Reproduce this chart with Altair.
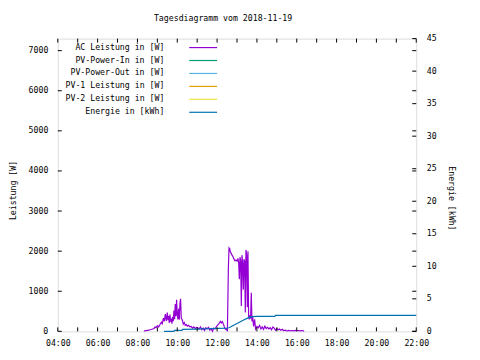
import altair as alt
import pandas as pd

# ---------------- data ----------------
ac_times = ["08:20", "08:22", "08:26", "08:30", "08:34", "08:38", "08:42", "08:46", "08:50", "08:53",
            "08:56", "09:00", "09:04", "09:08", "09:12", "09:15", "09:18", "09:21", "09:24", "09:27",
            "09:30", "09:32", "09:34", "09:36", "09:38", "09:40", "09:42", "09:44", "09:46", "09:48",
            "09:50", "09:52", "09:54", "09:56", "09:58", "10:00", "10:02", "10:04", "10:06", "10:08",
            "10:10", "10:12", "10:14", "10:16", "10:18", "10:21", "10:24", "10:27", "10:30", "10:34",
            "10:38", "10:42", "10:46", "10:50", "10:54", "10:58", "11:02", "11:06", "11:10", "11:14",
            "11:18", "11:22", "11:26", "11:30", "11:34", "11:38", "11:42", "11:46", "11:50", "11:54",
            "11:58", "12:02", "12:06", "12:10", "12:13", "12:16", "12:19", "12:22", "12:25", "12:28",
            "12:31", "12:34", "12:36", "12:38", "12:40", "12:42", "12:45", "12:48", "12:51", "12:54",
            "12:57", "13:00", "13:03", "13:05", "13:07", "13:09", "13:11", "13:13", "13:15", "13:17",
            "13:19", "13:21", "13:23", "13:25", "13:27", "13:29", "13:31", "13:33", "13:35", "13:37",
            "13:39", "13:41", "13:43", "13:45", "13:47", "13:50", "13:53", "13:56", "14:00", "14:04",
            "14:08", "14:12", "14:16", "14:20", "14:24", "14:28", "14:32", "14:36", "14:40", "14:44",
            "14:48", "14:52", "14:56", "15:00", "15:04", "15:08", "15:12", "15:16", "15:20", "15:25",
            "15:30", "15:35", "15:40", "15:45", "15:50", "15:55", "16:00", "16:05", "16:10", "16:15",
            "16:20", "16:22"]
ac_watts = [0, 15, 20, 25, 30, 40, 45, 60, 70, 110,
            90, 140, 110, 170, 230, 190, 330, 250, 430, 260,
            470, 280, 380, 210, 420, 240, 320, 190, 360, 250,
            520, 300, 680, 380, 790, 420, 300, 560, 290, 690,
            810, 330, 300, 260, 180, 220, 150, 170, 130, 150,
            110, 120, 80, 110, 70, 100, 90, 60, 110, 40,
            80, 20, 90, 60, 100, 30, 70, 0, 80, 60,
            120, 160, 200, 250, 210, 240, 180, 110, 50, 60,
            0, 1600, 2080, 2060, 1980, 1950, 1900, 1860, 1800, 1760,
            1780, 1750, 1820, 1700, 1300, 1850, 1750, 630, 1900, 1700,
            1040, 1800, 1750, 470, 2030, 1900, 600, 2000, 380, 300,
            400, 320, 960, 250, 370, 120, 300, 60, 120, 90,
            150, 60, 110, 50, 130, 70, 100, 60, 90, 40,
            110, 80, 30, 70, 40, 60, 30, 50, 20, 30,
            10, 25, 15, 20, 10, 25, 15, 20, 10, 20,
            15, 0]

energy_times = ["09:20", "09:50", "09:52", "10:14", "10:16", "11:00", "11:30", "12:00", "12:30", "12:36",
                "13:00", "13:20", "13:35", "13:45", "14:00", "14:54", "14:56", "22:00"]
energy_kwh = [0.0, 0.0, 0.15, 0.15, 0.3, 0.35, 0.4, 0.45, 0.5, 0.55,
              1.2, 1.75, 2.1, 2.25, 2.3, 2.3, 2.45, 2.45]

legend_labels = ["AC Leistung in [W]", "PV-Power-In in [W]", "PV-Power-Out in [W]",
                 "PV-1 Leistung in [W]", "PV-2 Leistung in [W]", "Energie in [kWh]"]
legend_colors = ["#9400d3", "#009e73", "#56b4e9", "#e69f00", "#f0e442", "#0072b2"]

hour_ticks = list(range(4, 23))
hour_labels = list(range(4, 23, 2))
watt_ticks = [0, 1000, 2000, 3000, 4000, 5000, 6000, 7000]
kwh_ticks = [0, 5, 10, 15, 20, 25, 30, 35, 40, 45]

title_text = ["Tagesdiagramm vom 2018-11-19"]

# ---------------- build ----------------
def to_hours(t):
    h, m = t.split(":")
    return int(h) + int(m) / 60.0

ac_df = pd.DataFrame({"t": [to_hours(t) for t in ac_times], "v": ac_watts})
en_df = pd.DataFrame({"t": [to_hours(t) for t in energy_times], "v": energy_kwh})
leg_df = pd.DataFrame({"label": legend_labels, "row": list(range(len(legend_labels)))})
hour_df = pd.DataFrame({"t": hour_ticks})
watt_df = pd.DataFrame({"v": watt_ticks})
kwh_df = pd.DataFrame({"v": kwh_ticks})
title_df = pd.DataFrame({"label": title_text})

FONT = "DejaVu Sans Mono"
FS = 8.25
W, H = 360, 294

x_scale = alt.Scale(domain=[4, 22], nice=False, zero=False)
w_scale = alt.Scale(domain=[0, 7300], nice=False)
e_scale = alt.Scale(domain=[0, 45], nice=False)
row_scale = alt.Scale(domain=[0, 5], range=[9, 74])

x_axis = alt.Axis(values=hour_labels, title=None, ticks=False, domain=False, grid=False,
                  labelExpr="(datum.value < 10 ? '0' : '') + datum.value + ':00'",
                  labelFlush=False, labelOverlap=False,
                  labelPadding=7, labelFont=FONT, labelFontSize=FS, labelColor="black")

def X():
    return alt.X("t:Q", scale=x_scale, axis=x_axis)

ac_line = alt.Chart(ac_df).mark_line(color="#9400d3", strokeWidth=1.2).encode(
    x=X(),
    y=alt.Y("v:Q", scale=w_scale,
            axis=alt.Axis(orient="left", values=watt_ticks, format="d", title="Leistung [W]",
                          ticks=False, labelFlush=False, labelOverlap=False,
                          domain=False, grid=False, labelPadding=10, labelFont=FONT,
                          labelFontSize=FS, labelColor="black", titleFont=FONT,
                          titleFontSize=FS, titleFontWeight="normal", titleColor="black",
                          titlePadding=11, titleY=152)),
)

en_line = alt.Chart(en_df).mark_line(color="#0072b2", strokeWidth=1.2).encode(
    x=X(),
    y=alt.Y("v:Q", scale=e_scale,
            axis=alt.Axis(orient="right", values=kwh_ticks, format="d", title="Energie [kWh]",
                          ticks=False, labelFlush=False, labelOverlap=False,
                          domain=False, grid=False, labelPadding=10, labelFont=FONT,
                          labelFontSize=FS, labelColor="black", titleFont=FONT,
                          titleFontSize=FS, titleFontWeight="normal", titleColor="black",
                          titlePadding=10, titleY=160)),
)

# inward tick marks (gnuplot style)
x_ticks_bottom = alt.Chart(hour_df).mark_rule(color="black", strokeWidth=1).encode(
    x=X(), y=alt.value(H), y2=alt.value(H - 4))
x_ticks_top = alt.Chart(hour_df).mark_rule(color="black", strokeWidth=1).encode(
    x=X(), y=alt.value(0), y2=alt.value(4))
w_ticks_left = alt.Chart(watt_df).mark_rule(color="black", strokeWidth=1).encode(
    y=alt.Y("v:Q", scale=w_scale, axis=None), x=alt.value(0), x2=alt.value(4))
w_ticks_right = alt.Chart(watt_df).mark_rule(color="black", strokeWidth=1).encode(
    y=alt.Y("v:Q", scale=w_scale, axis=None), x=alt.value(W), x2=alt.value(W - 4))
e_ticks_right = alt.Chart(kwh_df).mark_rule(color="black", strokeWidth=1).encode(
    y=alt.Y("v:Q", scale=e_scale, axis=None), x=alt.value(W), x2=alt.value(W - 4))

# key (gnuplot style: right-aligned text, sample line to the right)
leg_text = alt.Chart(leg_df).mark_text(align="right", baseline="middle", font=FONT,
                                       fontSize=FS, color="black").encode(
    x=alt.value(107),
    y=alt.Y("row:Q", scale=row_scale, axis=None),
    text="label:N",
)
leg_line = alt.Chart(leg_df).mark_rule(strokeWidth=1.2).encode(
    x=alt.value(132), x2=alt.value(160),
    y=alt.Y("row:Q", scale=row_scale, axis=None),
    color=alt.Color("label:N", scale=alt.Scale(domain=legend_labels, range=legend_colors),
                    legend=None),
)

# chart title, gnuplot-style above the box
title_mark = alt.Chart(title_df).mark_text(align="center", baseline="middle", font=FONT,
                                           fontSize=FS, color="black").encode(
    x=alt.value(166), y=alt.value(-20), text="label:N")

chart = alt.layer(
    ac_line, en_line, x_ticks_bottom, x_ticks_top, w_ticks_left, w_ticks_right, e_ticks_right,
    leg_text, leg_line, title_mark,
).resolve_scale(
    y="independent"
).properties(
    width=W, height=H,
    autosize=alt.AutoSizeParams(type="none"),
    padding={"left": 50, "top": 30, "right": 56, "bottom": 18},
).configure_view(
    stroke="black", strokeWidth=1
).configure(
    background="white"
)

chart.save("out.html", embed_options={"renderer": "svg", "actions": False})
